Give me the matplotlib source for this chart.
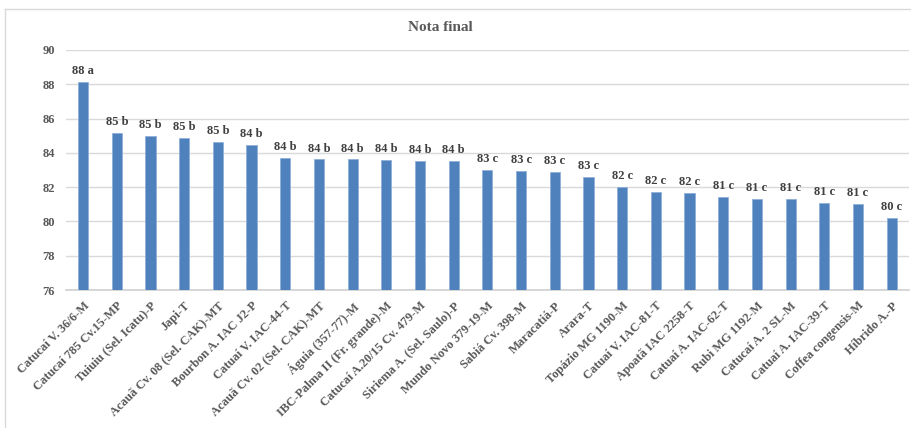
import matplotlib.pyplot as plt
from matplotlib.lines import Line2D

# cultivar names and final scores
cultivars = [
    "Catucaí V. 36/6-M", "Catucaí 785 Cv.15-MP", "Tuiuiu (Sel. Icatu)-P",
    "Japi-T", "Acauã Cv. 08 (Sel. CAK)-MT", "Bourbon A. IAC J2-P",
    "Catuaí V. IAC-44-T", "Acauã Cv. 02 (Sel. CAK)-MT", "Águia (357-77)-M",
    "IBC-Palma II (Fr. grande)-M", "Catucaí A.20/15 Cv. 479-M",
    "Siriema A. (Sel. Saulo)-P", "Mundo Novo 379-19-M", "Sabiá Cv. 398-M",
    "Maracatiá-P", "Arara-T", "Topázio MG 1190-M", "Catuaí V. IAC-81-T",
    "Apoatã IAC 2258-T", "Catuaí A. IAC-62-T", "Rubi MG 1192-M",
    "Catucaí A. 2 SL-M", "Catuaí A. IAC-39-T", "Coffea congensis-M",
    "Híbrido A.-P",
]
scores = [
    88.12, 85.18, 84.99, 84.85, 84.62, 84.46, 83.68, 83.62, 83.62, 83.60,
    83.53, 83.51, 83.00, 82.93, 82.91, 82.58, 82.00, 81.74, 81.66, 81.41,
    81.33, 81.29, 81.08, 81.00, 80.20,
]
score_labels = [
    "88 a", "85 b", "85 b", "85 b", "85 b", "84 b", "84 b", "84 b", "84 b",
    "84 b", "84 b", "84 b", "83 c", "83 c", "83 c", "83 c", "82 c", "82 c",
    "82 c", "81 c", "81 c", "81 c", "81 c", "81 c", "80 c",
]
y_ticks = [76, 78, 80, 82, 84, 86, 88, 90]

text_grey = "#595959"
serif = ["Liberation Serif", "DejaVu Serif"]

fig = plt.figure(figsize=(9.11, 4.28), dpi=100)
ax = fig.add_axes([0.0727, 0.3224, 0.9246, 0.5608])

x = range(len(cultivars))
bars = ax.bar(x, scores, width=0.3, color="#4F81BD", edgecolor="#8FB0DA",
              linewidth=0.6, zorder=3)

for bar, lab in zip(bars, score_labels):
    ax.annotate(lab, (bar.get_x() + bar.get_width() / 2, bar.get_height()),
                xytext=(0, 3.5), textcoords="offset points",
                ha="center", va="bottom", fontsize=9, fontweight="bold",
                color="#404040", family=serif)

ax.set_ylim(76, 90)
ax.set_xlim(-0.5, len(cultivars) - 0.5)
ax.set_yticks(y_ticks)
ax.set_yticklabels([str(t) for t in y_ticks], family=serif,
                   fontweight="bold", fontsize=9, color=text_grey)
ax.set_xticks(list(x))
ax.set_xticklabels(cultivars, rotation=45, ha="right",
                   rotation_mode="anchor", family=serif,
                   fontweight="bold", fontsize=9, color=text_grey)
ax.tick_params(axis="both", length=0)
ax.tick_params(axis="y", pad=8)
ax.tick_params(axis="x", pad=7)

ax.grid(axis="y", color="#D9D9D9", linewidth=1, zorder=0)
for side in ["top", "right", "left"]:
    ax.spines[side].set_visible(False)
ax.spines["bottom"].set_color("#D0D0D0")
ax.spines["bottom"].set_linewidth(1.2)

fig.text(0.4835, 0.935, "Nota final", ha="center", va="center",
         family=serif, fontweight="bold", fontsize=11, color=text_grey)

# chart frame (only top and left edges fall inside the image)
fig.add_artist(Line2D([5 / 911, 1], [1 - 9 / 428, 1 - 9 / 428],
                      color="#D9D9D9", linewidth=1))
fig.add_artist(Line2D([5 / 911, 5 / 911], [0, 1 - 9 / 428],
                      color="#D9D9D9", linewidth=1))

fig.savefig("out.png", dpi=100)
